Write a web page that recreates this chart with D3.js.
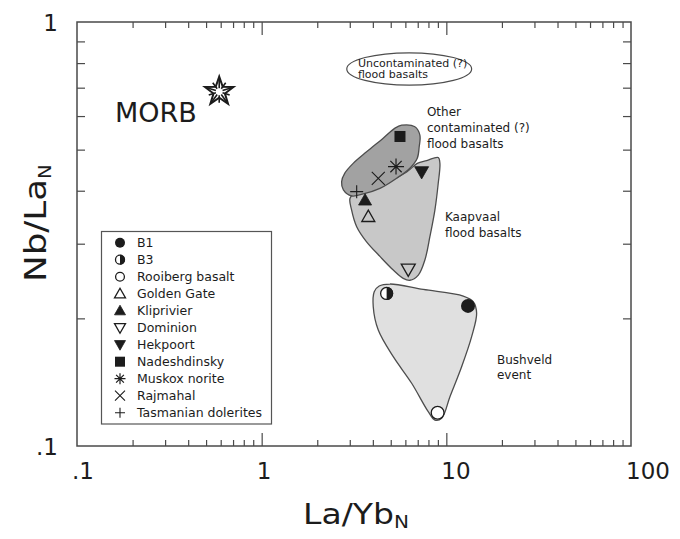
<!DOCTYPE html>
<html>
<head>
<meta charset="utf-8">
<script src="https://cdn.jsdelivr.net/npm/d3@7"></script>
<style>
  body { margin: 0; background: #fff; }
  svg { display: block; }
  text { font-family: "DejaVu Sans", sans-serif; fill: #1c1c1c; }
</style>
</head>
<body>
<svg id="chart" width="680" height="539"></svg>
<script>
// ---------------- data ----------------
const groups = ["B1", "B3", "Rooiberg basalt", "Golden Gate", "Kliprivier", "Dominion",
                "Hekpoort", "Nadeshdinsky", "Muskox norite", "Rajmahal", "Tasmanian dolerites"];
const laYb = [13.1, 4.75, 8.97, 3.78, 3.63, 6.22, 7.35, 5.61, 5.34, 4.28, 3.27];
const nbLa = [0.214, 0.229, 0.1198, 0.3475, 0.380, 0.261, 0.443, 0.537, 0.456, 0.428, 0.398];
const symbolKinds = ["dot", "half", "circle", "triUp", "triUpFill", "triDown",
                     "triDownFill", "square", "asterisk", "times", "plus"];

const morbLaYb = 0.589;
const morbNbLa = 0.685;

const xTickValues = [0.1, 1, 10, 100];
const xTickLabels = [".1", "1", "10", "100"];
const yTickValues = [0.1, 1];
const yTickLabels = [".1", "1"];

// fields (La/Yb, Nb/La outlines)
const otherFieldX = [5.73, 6.76, 7.19, 7.13, 6.96, 6.35, 5.38, 4.37, 3.55, 3.07, 2.77, 2.71, 2.82, 3.13, 3.70, 4.55, 5.27];
const otherFieldY = [0.571, 0.566, 0.541, 0.508, 0.477, 0.452, 0.428, 0.405, 0.393, 0.389, 0.402, 0.420, 0.440, 0.464, 0.494, 0.532, 0.562];

const kaapvaalX = [9.04, 7.82, 6.96, 6.10, 4.37, 3.27, 3.01, 3.07, 3.27, 3.70, 4.37, 5.16, 5.84, 6.35, 7.05, 7.66, 8.15, 8.67, 9.04, 9.23];
const kaapvaalY = [0.479, 0.471, 0.464, 0.443, 0.413, 0.398, 0.384, 0.360, 0.329, 0.303, 0.280, 0.260, 0.2486, 0.246, 0.253, 0.275, 0.312, 0.360, 0.4165, 0.464];

const bushveldX = [4.33, 4.95, 7.50, 12.35, 13.98, 14.59, 13.71, 12.1, 10.46, 9.43, 8.67, 7.98, 6.49, 5.16, 4.28, 4.02, 4.07];
const bushveldY = [0.2384, 0.241, 0.234, 0.2258, 0.2189, 0.2056, 0.1811, 0.1538, 0.1307, 0.1162, 0.1151, 0.1205, 0.1406, 0.1624, 0.1877, 0.2131, 0.2312];

// uncontaminated ellipse bounds (La/Yb left/right, Nb/La top/bottom)
const uncontamX = [2.89, 13.71];
const uncontamY = [0.846, 0.710];

// annotation anchors (La/Yb, Nb/La) and text
const annoText = [["MORB"], ["Uncontaminated (?)", "flood basalts"],
                  ["Other", "contaminated (?)", "flood basalts"],
                  ["Kaapvaal", "flood basalts"], ["Bushveld", "event"]];
const annoLaYb = [0.1606, 3.32, 7.85, 9.83, 18.8];
const annoNbLa = [0.582, 0.785, 0.600, 0.3394, 0.156];

// ---------------- drawing ----------------
const svg = d3.select("#chart");
const mLeft = 77, mRight = 631, mTop = 22, mBottom = 446;
const x = d3.scaleLog().domain([0.1, 100]).range([mLeft, mRight]);
const y = d3.scaleLog().domain([0.1, 1]).range([mBottom, mTop]);

const ink = "#1c1c1c";
const axisGray = "#4a4a4a";

// fields
const fieldLine = d3.line()
  .x(d => x(d[0])).y(d => y(d[1]))
  .curve(d3.curveCatmullRomClosed.alpha(0.5));

function drawField(xs, ys, fill) {
  svg.append("path")
    .attr("d", fieldLine(d3.zip(xs, ys)))
    .attr("fill", fill)
    .attr("stroke", "#4d4d4d")
    .attr("stroke-width", 1.3);
}
drawField(kaapvaalX, kaapvaalY, "#c8c8c8");
drawField(otherFieldX, otherFieldY, "#a2a2a2");
drawField(bushveldX, bushveldY, "#e0e0e0");

// ellipse
{
  const x0 = x(uncontamX[0]), x1 = x(uncontamX[1]);
  const y0 = y(uncontamY[0]), y1 = y(uncontamY[1]);
  svg.append("ellipse")
    .attr("cx", (x0 + x1) / 2).attr("cy", (y0 + y1) / 2)
    .attr("rx", (x1 - x0) / 2).attr("ry", (y1 - y0) / 2)
    .attr("fill", "none").attr("stroke", "#4d4d4d").attr("stroke-width", 1.2);
}

// axes (ticks inward)
const minor = [];
[0.1, 1, 10].forEach(d => { for (let k = 2; k <= 9; k++) minor.push(+(d * k).toPrecision(3)); });
const majorInner = [1, 10];
const yMinor = [];
for (let k = 2; k <= 9; k++) yMinor.push(+(0.1 * k).toPrecision(3));

function styleAxis(g) {
  g.select(".domain").remove();
  g.selectAll("line").attr("stroke", axisGray).attr("stroke-width", 1.2);
  g.selectAll("text").remove();
}
svg.append("g").attr("transform", `translate(0,${mBottom})`)
  .call(d3.axisBottom(x).tickValues(minor).tickSize(-6)).call(styleAxis);
svg.append("g").attr("transform", `translate(0,${mBottom})`)
  .call(d3.axisBottom(x).tickValues(majorInner).tickSize(-13)).call(styleAxis);
svg.append("g").attr("transform", `translate(0,${mTop})`)
  .call(d3.axisTop(x).tickValues(minor).tickSize(-6)).call(styleAxis);
svg.append("g").attr("transform", `translate(0,${mTop})`)
  .call(d3.axisTop(x).tickValues(majorInner).tickSize(-13)).call(styleAxis);
svg.append("g").attr("transform", `translate(${mLeft},0)`)
  .call(d3.axisLeft(y).tickValues(yMinor).tickSize(-8)).call(styleAxis);
svg.append("g").attr("transform", `translate(${mRight},0)`)
  .call(d3.axisRight(y).tickValues(yMinor).tickSize(-8)).call(styleAxis);

svg.append("rect")
  .attr("x", mLeft).attr("y", mTop).attr("width", mRight - mLeft).attr("height", mBottom - mTop)
  .attr("fill", "none").attr("stroke", axisGray).attr("stroke-width", 1.5);

// tick labels
svg.selectAll(".xtl").data(xTickValues).enter().append("text")
  .attr("x", d => x(d) - 5).attr("y", 479)
  .attr("font-size", 23).attr("text-anchor", "start")
  .text((d, i) => xTickLabels[i]);
svg.selectAll(".ytl").data(yTickValues).enter().append("text")
  .attr("x", 58).attr("y", d => y(d) + 9)
  .attr("font-size", 23).attr("text-anchor", "end")
  .text((d, i) => yTickLabels[i]);

// axis titles
{
  const g = svg.append("g").attr("transform", "translate(303,524) scale(1.18,1)");
  const t = g.append("text").attr("font-size", 28);
  t.append("tspan").text("La/Yb");
  t.append("tspan").attr("font-size", 17).attr("dy", 4).text("N");
}
{
  const g = svg.append("g").attr("transform", "translate(46,282) rotate(-90) scale(1.15,1)");
  const t = g.append("text").attr("font-size", 31);
  t.append("tspan").text("Nb/La");
  t.append("tspan").attr("font-size", 17).attr("dy", 5).text("N");
}

// symbols
function drawSymbol(g, kind, cx, cy, r) {
  const sw = 1.3;
  const p = d3.path();
  switch (kind) {
    case "dot":
      g.append("circle").attr("cx", cx).attr("cy", cy).attr("r", r).attr("fill", ink);
      break;
    case "half":
      g.append("circle").attr("cx", cx).attr("cy", cy).attr("r", r - 0.5)
        .attr("fill", "#fff").attr("stroke", ink).attr("stroke-width", sw);
      p.moveTo(cx, cy - r); p.arc(cx, cy, r, -Math.PI / 2, Math.PI / 2, false); p.closePath();
      g.append("path").attr("d", p.toString()).attr("fill", ink);
      break;
    case "circle":
      g.append("circle").attr("cx", cx).attr("cy", cy).attr("r", r - 0.6)
        .attr("fill", "#fff").attr("stroke", ink).attr("stroke-width", sw);
      break;
    case "triUp": case "triUpFill": {
      p.moveTo(cx, cy - r); p.lineTo(cx + r, cy + r * 0.75); p.lineTo(cx - r, cy + r * 0.75); p.closePath();
      const filled = kind === "triUpFill";
      g.append("path").attr("d", p.toString()).attr("fill", filled ? ink : "none")
        .attr("stroke", ink).attr("stroke-width", filled ? 0.8 : sw).attr("stroke-linejoin", "miter");
      break;
    }
    case "triDown": case "triDownFill": {
      p.moveTo(cx, cy + r); p.lineTo(cx + r, cy - r * 0.75); p.lineTo(cx - r, cy - r * 0.75); p.closePath();
      const filled = kind === "triDownFill";
      g.append("path").attr("d", p.toString()).attr("fill", filled ? ink : "none")
        .attr("stroke", ink).attr("stroke-width", filled ? 0.8 : sw);
      break;
    }
    case "square":
      g.append("rect").attr("x", cx - r).attr("y", cy - r).attr("width", 2 * r).attr("height", 2 * r)
        .attr("fill", ink);
      break;
    case "asterisk":
      for (let k = 0; k < 4; k++) {
        const a = k * Math.PI / 4;
        p.moveTo(cx - r * Math.cos(a), cy - r * Math.sin(a));
        p.lineTo(cx + r * Math.cos(a), cy + r * Math.sin(a));
      }
      g.append("path").attr("d", p.toString()).attr("stroke", ink).attr("stroke-width", 1.2);
      break;
    case "times":
      p.moveTo(cx - r, cy - r); p.lineTo(cx + r, cy + r);
      p.moveTo(cx - r, cy + r); p.lineTo(cx + r, cy - r);
      g.append("path").attr("d", p.toString()).attr("stroke", ink).attr("stroke-width", 1.1);
      break;
    case "plus":
      p.moveTo(cx - r, cy); p.lineTo(cx + r, cy);
      p.moveTo(cx, cy - r); p.lineTo(cx, cy + r);
      g.append("path").attr("d", p.toString()).attr("stroke", ink).attr("stroke-width", 1.1);
      break;
  }
}

const plotSize = {dot: 7, half: 6.5, circle: 7, triUp: 6.5, triUpFill: 6.5, triDown: 7, triDownFill: 7,
                  square: 5.5, asterisk: 8, times: 6.5, plus: 6.5};
const legendSize = {dot: 5, half: 5, circle: 5, triUp: 5.5, triUpFill: 5.5, triDown: 5.5, triDownFill: 5.5,
                    square: 5, asterisk: 5.5, times: 5, plus: 5};

const marks = svg.append("g");
groups.forEach((name, i) => {
  drawSymbol(marks, symbolKinds[i], x(laYb[i]), y(nbLa[i]), plotSize[symbolKinds[i]]);
});

// MORB starburst
{
  const cx = x(morbLaYb), cy = y(morbNbLa);
  const star = d3.path();
  const R = 15, rIn = 6;
  for (let k = 0; k < 10; k++) {
    const a = -Math.PI / 2 + k * Math.PI / 5;
    const rr = k % 2 === 0 ? R : rIn;
    const px = cx + rr * Math.cos(a), py = cy + rr * Math.sin(a);
    if (k === 0) star.moveTo(px, py); else star.lineTo(px, py);
  }
  star.closePath();
  svg.append("path").attr("d", star.toString()).attr("fill", "#fff")
    .attr("stroke", ink).attr("stroke-width", 2).attr("stroke-linejoin", "miter");
  const rays = d3.path();
  for (let k = 0; k < 10; k++) {
    const a = -Math.PI / 2 + k * Math.PI / 5;
    const r0 = 3.5, r1 = k % 2 === 0 ? R - 2 : 11;
    rays.moveTo(cx + r0 * Math.cos(a), cy + r0 * Math.sin(a));
    rays.lineTo(cx + r1 * Math.cos(a), cy + r1 * Math.sin(a));
  }
  svg.append("path").attr("d", rays.toString()).attr("stroke", ink).attr("stroke-width", 1.6);
  svg.append("circle").attr("cx", cx).attr("cy", cy).attr("r", 2.8).attr("fill", "#fff");
}

// annotations
const annoSizes = [27, 11, 12, 12, 12];
const annoLead = [0, 11.5, 16, 16.5, 14.5];
annoText.forEach((lines, i) => {
  const t = svg.append("text")
    .attr("x", x(annoLaYb[i])).attr("y", y(annoNbLa[i]))
    .attr("font-size", annoSizes[i]);
  lines.forEach((ln, j) => {
    t.append("tspan").attr("x", x(annoLaYb[i])).attr("dy", j === 0 ? 0 : annoLead[i]).text(ln);
  });
});

// legend
{
  const lx = 101.5, ly = 231.5, lw = 170, lh = 192.5, row = 17, first = 242.7;
  const lg = svg.append("g");
  lg.append("rect").attr("x", lx).attr("y", ly).attr("width", lw).attr("height", lh)
    .attr("fill", "#fff").attr("stroke", "#555").attr("stroke-width", 1.2);
  groups.forEach((name, i) => {
    const cy = first + i * row;
    drawSymbol(lg, symbolKinds[i], 120, cy, legendSize[symbolKinds[i]]);
    lg.append("text").attr("x", 137).attr("y", cy + 4.6).attr("font-size", 12.5).text(name);
  });
}
</script>
</body>
</html>
